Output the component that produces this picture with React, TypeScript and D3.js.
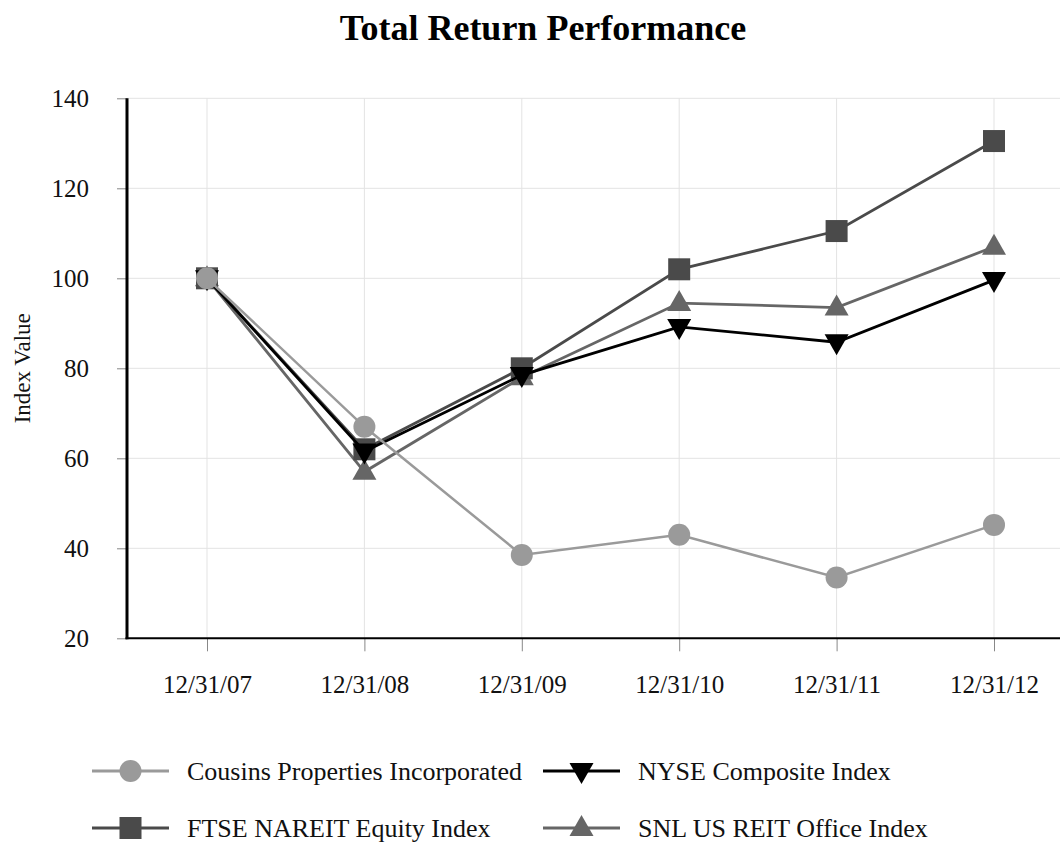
import React, { useEffect, useRef } from 'react';
import * as d3 from 'd3';

const dates = ['12/31/07', '12/31/08', '12/31/09', '12/31/10', '12/31/11', '12/31/12'];
const cousins = [100, 67, 38.5, 43, 33.5, 45.2];
const ftse = [100, 62, 80, 102, 110.5, 130.5];
const nyse = [100, 61.5, 78.5, 89.2, 85.8, 99.6];
const snl = [100, 57, 78, 94.5, 93.5, 107];
const yTicks = [20, 40, 60, 80, 100, 120, 140];

const series = [
  { name: 'SNL US REIT Office Index', values: snl, color: '#666666', shape: 'up' },
  { name: 'FTSE NAREIT Equity Index', values: ftse, color: '#4a4a4a', shape: 'square' },
  { name: 'NYSE Composite Index', values: nyse, color: '#000000', shape: 'down' },
  { name: 'Cousins Properties Incorporated', values: cousins, color: '#9a9a9a', shape: 'circle' },
];

const FONT = '"Liberation Serif", "Times New Roman", serif';

const drawMarker = (g, shape, x, y, color) => {
  if (shape === 'circle') {
    g.append('circle').attr('cx', x).attr('cy', y).attr('r', 11).attr('fill', color);
  } else if (shape === 'square') {
    g.append('rect').attr('x', x - 11).attr('y', y - 11).attr('width', 22).attr('height', 22).attr('fill', color);
  } else if (shape === 'up') {
    g.append('path').attr('d', `M${x},${y - 13}L${x + 12},${y + 8}L${x - 12},${y + 8}Z`).attr('fill', color);
  } else {
    g.append('path').attr('d', `M${x},${y + 13}L${x + 12},${y - 8}L${x - 12},${y - 8}Z`).attr('fill', color);
  }
};

const App = () => {
  const ref = useRef(null);

  useEffect(() => {
    document.body.style.margin = '0';
    const width = 1060;
    const height = 848;
    const left = 127;
    const top = 98.3;
    const bottom = 638.3;

    const root = d3.select(ref.current);
    root.selectAll('*').remove();
    const svg = root
      .append('svg')
      .attr('width', width)
      .attr('height', height)
      .style('display', 'block')
      .style('background', '#fff')
      .style('font-family', FONT);

    const x = d3.scalePoint().domain(dates).range([128.3, 1072.7]).padding(0.5);
    const y = d3.scaleLinear().domain([20, 140]).range([bottom, top]);

    // title
    svg.append('text')
      .attr('x', 543).attr('y', 40)
      .attr('text-anchor', 'middle')
      .attr('font-size', 36).attr('font-weight', 'bold')
      .text('Total Return Performance');

    // gridlines
    svg.append('g').selectAll('line').data(yTicks.slice(1)).join('line')
      .attr('x1', left).attr('x2', width)
      .attr('y1', (d) => y(d)).attr('y2', (d) => y(d))
      .attr('stroke', '#e3e3e3').attr('stroke-width', 1);
    svg.append('g').selectAll('line').data(dates).join('line')
      .attr('x1', (d) => x(d)).attr('x2', (d) => x(d))
      .attr('y1', top).attr('y2', bottom)
      .attr('stroke', '#e3e3e3').attr('stroke-width', 1);

    // y axis
    const yAxis = d3.axisLeft(y).tickValues(yTicks).tickSize(10).tickPadding(28);
    const gy = svg.append('g').attr('transform', `translate(${left},0)`).call(yAxis);
    gy.select('.domain').remove();
    gy.selectAll('line').attr('stroke', '#888');
    gy.selectAll('text').attr('font-size', 25).attr('font-family', FONT).attr('fill', '#111');
    svg.append('line').attr('x1', left).attr('x2', left).attr('y1', top).attr('y2', bottom + 1)
      .attr('stroke', '#000').attr('stroke-width', 3);

    // x axis
    const xAxis = d3.axisBottom(x).tickSize(13).tickPadding(24);
    const gx = svg.append('g').attr('transform', `translate(0,${bottom})`).call(xAxis);
    gx.select('.domain').remove();
    gx.selectAll('line').attr('stroke', '#888');
    gx.selectAll('text').attr('font-size', 25).attr('font-family', FONT).attr('fill', '#111');
    svg.append('line').attr('x1', left - 1.5).attr('x2', width).attr('y1', bottom).attr('y2', bottom)
      .attr('stroke', '#000').attr('stroke-width', 2);

    svg.append('text')
      .attr('transform', `translate(30,${(top + bottom) / 2}) rotate(-90)`)
      .attr('text-anchor', 'middle')
      .attr('font-size', 23).attr('fill', '#111')
      .text('Index Value');

    // series
    const line = d3.line().x((d, i) => x(dates[i])).y((d) => y(d));
    series.forEach((s) => {
      const g = svg.append('g');
      g.append('path').datum(s.values)
        .attr('fill', 'none').attr('stroke', s.color)
        .attr('stroke-width', s.shape === 'circle' ? 2.5 : 2.8)
        .attr('d', line);
      s.values.forEach((v, i) => drawMarker(g, s.shape, x(dates[i]), y(v), s.color));
    });

    // legend
    const legendItems = [
      { s: series[3], lx: 92, ly: 771 },
      { s: series[2], lx: 543, ly: 771 },
      { s: series[1], lx: 92, ly: 828 },
      { s: series[0], lx: 543, ly: 828 },
    ];
    legendItems.forEach(({ s, lx, ly }) => {
      const g = svg.append('g');
      g.append('line').attr('x1', lx).attr('x2', lx + 77).attr('y1', ly).attr('y2', ly)
        .attr('stroke', s.color).attr('stroke-width', 3);
      drawMarker(g, s.shape, lx + 38.5, ly, s.color);
      g.append('text').attr('x', lx + 95).attr('y', ly + 9)
        .attr('font-size', 26).attr('fill', '#111')
        .text(s.name);
    });
  }, []);

  return <div ref={ref}></div>;
};

export default App;
